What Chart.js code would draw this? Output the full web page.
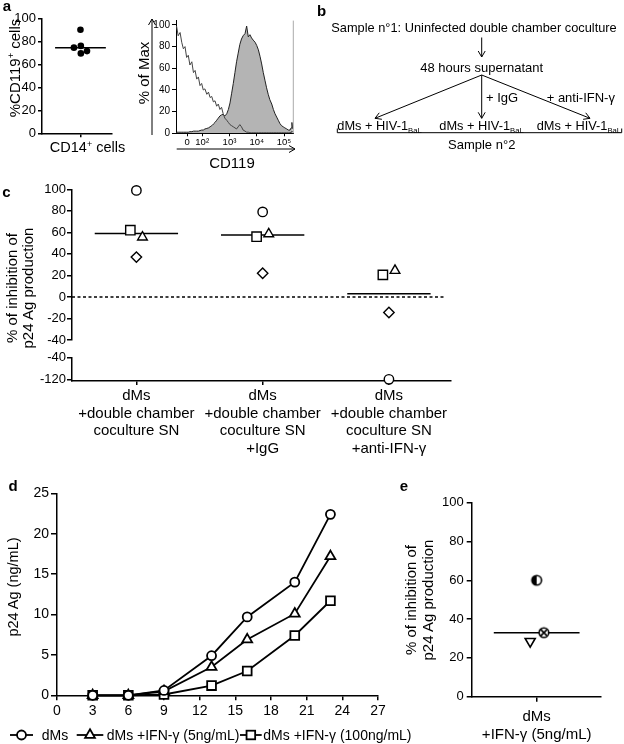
<!DOCTYPE html>
<html><head><meta charset="utf-8">
<script src="https://cdn.jsdelivr.net/npm/chart.js@4.4.1/dist/chart.umd.min.js"></script>
<style>
html,body{margin:0;padding:0;background:#fff;}
#page{position:relative;width:624px;height:744px;overflow:hidden;font-family:'Liberation Sans',Arial,Helvetica,sans-serif;color:#000;}
canvas{position:absolute;}
.t{position:absolute;white-space:nowrap;line-height:1;}
#ov{position:absolute;left:0;top:0;}
</style></head><body><div id="page">
<canvas id="ca1"></canvas><canvas id="ca2"></canvas>
<canvas id="cc1"></canvas><canvas id="cc2"></canvas>
<canvas id="cd"></canvas><canvas id="ce"></canvas>
<svg id="ov" width="624" height="744" xmlns="http://www.w3.org/2000/svg"></svg>
</div>
<script>
// ---------------- DATA ----------------
// panel a (left): %CD119+ among CD14+ cells
const aCd119 = [90, 74.5, 76, 69.5, 71.5];
const aCd119Jitter = [0, -0.17, 0.01, 0.01, 0.17];
const aCd119Median = 74.5;
const aTicks = [0, 20, 40, 60, 80, 100];

// panel a (right): CD119 histogram (x in display decades)
const histX = [1.06,1.12,1.19,1.25,1.31,1.37,1.43,1.49,1.55,1.62,
  1.68,1.74,1.80,1.86,1.92,1.98,2.04,2.10,2.17,2.23,
  2.29,2.35,2.41,2.47,2.53,2.59,2.65,2.71,2.77,2.83,
  2.90,2.96,3.02,3.08,3.14,3.20,3.26,3.32,3.38,3.44,
  3.50,3.57,3.63,3.69,3.75,3.81,3.87,3.94,4.00,4.06,
  4.12,4.18,4.24,4.30,4.36,4.42,4.48,4.55,4.61,4.67,
  4.73,4.79,4.85,4.91,4.97,5.03,5.10,5.16,5.22,5.26,
  5.29,5.32];
const histIsotype = [99,90,93,84,78,80,70,72,63,66,
  56,58,50,52,44,46,40,41,36,38,
  33,34,29,30,25,27,22,24,18,14,
  12,10,8,7,6,5,4,6,8,6,
  3,2,1,1,0.5,0.5,0.5,0.5,0.5,0.5,
  0.5,0.5,0.5,0.5,0.5,0.5,0.5,0.5,0.5,0.5,
  0.5,0.5,0.5,0.5,0.5,0.5,0.5,0.5,0.5,1,
  2,1];
const histCd119 = [1,1,1,1,1,1,1,1,1.5,1.5,
  2,2,2,2,2.5,3,3,4,4.5,5,
  6,7,8.5,10,12,14,16,17,17.5,16,
  18,22,28,37,46,56,66,74,82,87,
  90,92,99,89,91,88,86,84,81,77,
  71,64,56,49,42,36,31,27,22,18,
  15,12,9,7,6,5,4,3,3,5,
  10,4];
const histTickValues = [1.45, 2, 3, 4, 5];
const histTickLabels = ['0', '10²', '10³', '10⁴', '10⁵'];
const histYTicks = [0, 20, 40, 60, 80, 100];

// panel c
const cCategories = [
  ['dMs', '+double chamber', 'coculture SN'],
  ['dMs', '+double chamber', 'coculture SN', '+IgG'],
  ['dMs', '+double chamber', 'coculture SN', '+anti-IFN-γ']
];
const cCircle   = [99, 79, -120];
const cSquare   = [62, 56, 20.5];
const cTriangle = [55.5, 58.5, 24.5];
const cDiamond  = [37, 22, -14.5];
const cMedian   = [59, 57.5, 3];
const cUpperTicks = [100, 80, 60, 40, 20, 0, -20, -40];
const cLowerTicks = [-40, -120];

// panel d
const dDays   = [3, 6, 9, 13, 16, 20, 23];
const dMs     = [0, 0, 0.6, 4.9, 9.7, 14.0, 22.4];
const dIfn5   = [0, 0, 0.5, 3.5, 6.9, 10.1, 17.2];
const dIfn100 = [0, 0, 0.1, 1.2, 3.0, 7.4, 11.7];
const dSeriesNames = ['dMs', 'dMs +IFN-γ (5ng/mL)', 'dMs +IFN-γ (100ng/mL)'];

// panel e
const eCategory = ['dMs', '+IFN-γ (5ng/mL)'];
const eValues = [60, 28.5, 33];
const eJitter = [0, -0.1, 0.11];
const eMedian = 33;

// ---------------- STYLE / HELPERS ----------------
const FONT = "'Liberation Sans', Arial, Helvetica, sans-serif";
Chart.defaults.font.family = FONT;
Chart.defaults.color = '#000';
Chart.defaults.animation = false;
Chart.defaults.events = [];
Chart.defaults.responsive = false;
Chart.defaults.plugins.legend.display = false;
Chart.defaults.plugins.tooltip.enabled = false;

const page = document.getElementById('page');
function place(id, L, T, W, H) {
  const c = document.getElementById(id);
  c.width = W; c.height = H;
  c.style.left = L + 'px'; c.style.top = T + 'px';
  c.style.width = W + 'px'; c.style.height = H + 'px';
  return c;
}
function axis(o) {
  const lw = o.lw ?? 1.5;
  const a = {
    type: 'linear',
    display: o.display !== false,
    position: o.position,
    min: o.min, max: o.max,
    afterFit: o.position === 'left' ? (s => { s.width = o.size; }) : (s => { s.height = o.size; }),
    ticks: { color: '#000', font: { size: o.font || 12, lineHeight: o.lh || 1.2 }, padding: o.pad ?? 3,
             autoSkip: false, maxRotation: 0, minRotation: 0 },
    grid: { display: true, drawOnChartArea: false, drawTicks: true, tickLength: o.tl ?? 5, color: '#000', lineWidth: lw },
    border: { display: true, color: '#000', width: lw }
  };
  if (o.step) a.ticks.stepSize = o.step;
  if (o.ticks) a.afterBuildTicks = s => { s.ticks = o.ticks.map(v => ({ value: v })); };
  if (o.labels) a.ticks.callback = (v, i) => o.labels[i];
  if (o.hideLabels) a.ticks.display = false;
  return a;
}
function txt(html, x, y, o = {}) {
  const d = document.createElement('div');
  d.className = 't';
  d.innerHTML = html;
  d.style.fontSize = (o.size || 13) + 'px';
  if (o.bold) d.style.fontWeight = 'bold';
  d.style.left = x + 'px'; d.style.top = y + 'px';
  const ax = o.align === 'left' ? '0' : '-50%';
  d.style.transform = 'translate(' + ax + ',-50%)' + (o.rot ? ' rotate(-90deg)' : '');
  page.appendChild(d);
}
const ov = document.getElementById('ov');
function svgEl(tag, attrs) {
  const e = document.createElementNS('http://www.w3.org/2000/svg', tag);
  for (const k in attrs) e.setAttribute(k, attrs[k]);
  ov.appendChild(e); return e;
}
function arrow(x1, y1, x2, y2, h = 6, w = 3.5, sw = 1) {
  const a = Math.atan2(y2 - y1, x2 - x1);
  const bx = x2 - h * Math.cos(a), by = y2 - h * Math.sin(a);
  const px = -Math.sin(a) * w, py = Math.cos(a) * w;
  svgEl('path', { d: `M${x1},${y1}L${x2},${y2}M${bx + px},${by + py}L${x2},${y2}L${bx - px},${by - py}`,
    stroke: '#000', 'stroke-width': sw, fill: 'none' });
}
const openPt = { pointBackgroundColor: '#fff', pointBorderColor: '#000', pointBorderWidth: 1.4, clip: false };
function medianLine(xc, half, y, lw = 1.5) {
  return { data: [{ x: xc - half, y }, { x: xc + half, y }], showLine: true, pointRadius: 0,
           borderColor: '#000', borderWidth: lw, clip: false };
}
function pointImg(kind, r) {
  const s = Math.ceil(2 * r + 4), c = document.createElement('canvas');
  c.width = s; c.height = s;
  const g = c.getContext('2d'), m = s / 2;
  g.lineWidth = 1.6; g.strokeStyle = '#000';
  g.fillStyle = '#fff'; g.beginPath(); g.arc(m, m, r, 0, 2 * Math.PI); g.fill();
  if (kind === 'half') {
    g.fillStyle = '#000'; g.beginPath(); g.arc(m, m, r, Math.PI / 2, 3 * Math.PI / 2); g.closePath(); g.fill();
  } else {
    const k = r * 0.6;
    g.beginPath(); g.moveTo(m - k, m - k); g.lineTo(m + k, m + k); g.moveTo(m + k, m - k); g.lineTo(m - k, m + k); g.stroke();
  }
  g.beginPath(); g.arc(m, m, r, 0, 2 * Math.PI); g.stroke();
  return c;
}

// ---------------- PANEL a (dot plot) ----------------
place('ca1', 0, 0, 135, 160);
new Chart('ca1', {
  type: 'scatter',
  data: { datasets: [
    { data: aCd119.map((v, i) => ({ x: 1 + aCd119Jitter[i], y: v })), pointRadius: 3.3,
      pointBackgroundColor: '#000', pointBorderColor: '#000', pointBorderWidth: 0, clip: false },
    medianLine(1, 0.66, aCd119Median)
  ] },
  options: {
    layout: { padding: { top: 18.3, right: 23, left: 0, bottom: 0 } },
    scales: {
      x: axis({ position: 'bottom', min: 0, max: 1.82, size: 26.7, ticks: [1], hideLabels: true, tl: 4 }),
      y: axis({ position: 'left', min: 0, max: 100, size: 42, ticks: aTicks, font: 13, tl: 4, pad: 2 })
    }
  }
});

// ---------------- PANEL a (histogram) ----------------
const rightEdge = { id: 'rightEdge', afterDraw(ch) {
  const a = ch.chartArea, g = ch.ctx; g.save(); g.strokeStyle = '#aaa'; g.lineWidth = 1;
  g.beginPath(); g.moveTo(a.right, a.top); g.lineTo(a.right, a.bottom); g.stroke(); g.restore(); } };
place('ca2', 140, 0, 165, 160);
new Chart('ca2', {
  type: 'scatter',
  data: { datasets: [
    { data: histX.map((x, i) => ({ x, y: histIsotype[i] })), showLine: true, pointRadius: 0,
      borderColor: '#444', borderWidth: 1, fill: false },
    { data: histX.map((x, i) => ({ x, y: histCd119[i] })), showLine: true, pointRadius: 0,
      borderColor: '#222', borderWidth: 1, fill: 'origin', backgroundColor: '#b4b4b4' }
  ] },
  options: {
    layout: { padding: { top: 20.6, right: 11.7, left: 0, bottom: 0 } },
    scales: {
      x: axis({ position: 'bottom', min: 1.04, max: 5.34, size: 26.7, ticks: histTickValues, labels: histTickLabels, font: 9.5, tl: 3, pad: 0, lw: 1 }),
      y: axis({ position: 'left', min: 0, max: 104, size: 36, ticks: histYTicks, font: 10, tl: 4, pad: 2, lw: 1 })
    }
  },
  plugins: [rightEdge]
});

// ---------------- PANEL c ----------------
const cShapes = [
  { vals: cCircle, style: 'circle', r: 4.7, off: 0 },
  { vals: cSquare, style: 'rect', r: 6.6, off: -0.048 },
  { vals: cTriangle, style: 'triangle', r: 5.6, off: 0.048 },
  { vals: cDiamond, style: 'rectRot', r: 5.2, off: 0 }
];
function cSets(keep) {
  return cShapes.map(s => Object.assign({
    data: s.vals.map((v, i) => ({ x: i + 1 + s.off, y: v })).filter(p => keep(p.y)),
    pointStyle: s.style, pointRadius: s.r
  }, openPt));
}
place('cc1', 0, 180, 470, 170);
new Chart('cc1', {
  type: 'scatter',
  data: { datasets: [
    ...cSets(v => v >= -40),
    ...cMedian.map((m, i) => medianLine(i + 1, 0.33, m)),
    { data: [{ x: 0.49, y: 0 }, { x: 3.44, y: 0 }], showLine: true, pointRadius: 0, borderColor: '#000',
      borderWidth: 1.5, borderDash: [3, 2.5], clip: false }
  ] },
  options: {
    layout: { padding: { top: 9.3, right: 19.2, left: 0, bottom: 10 } },
    scales: {
      x: axis({ display: false, position: 'bottom', min: 0.49, max: 3.49, size: 0 }),
      y: axis({ position: 'left', min: -40, max: 100, size: 72, ticks: cUpperTicks, font: 13, tl: 5, pad: 1 })
    }
  }
});
place('cc2', 0, 345, 470, 120);
new Chart('cc2', {
  type: 'scatter',
  data: { datasets: cSets(v => v < -40) },
  options: {
    layout: { padding: { top: 12.3, right: 19.2, left: 0, bottom: 0 } },
    scales: {
      x: axis({ position: 'bottom', min: 0.49, max: 3.49, size: 84, ticks: [1, 2, 3], labels: cCategories, font: 15, lh: 1.18, tl: 4, pad: 2 }),
      y: axis({ position: 'left', min: -126, max: -40, size: 72, ticks: cLowerTicks, font: 13, tl: 5, pad: 1 })
    }
  }
});

// ---------------- PANEL d ----------------
const dSeries = [
  { vals: dMs, style: 'circle', r: 4.5 },
  { vals: dIfn5, style: 'triangle', r: 5.7 },
  { vals: dIfn100, style: 'rect', r: 6.2 }
];
place('cd', 0, 480, 400, 240);
new Chart('cd', {
  type: 'scatter',
  data: { datasets: dSeries.map((s, k) => ({
    label: dSeriesNames[k],
    data: dDays.map((x, i) => ({ x, y: s.vals[i] })), showLine: true, borderColor: '#000', borderWidth: 1.8,
    pointStyle: s.style, pointRadius: s.r, pointBackgroundColor: '#fff', pointBorderColor: '#000',
    pointBorderWidth: 1.8, clip: false })) },
  options: {
    layout: { padding: { top: 13.3, right: 22, left: 0, bottom: 0 } },
    scales: {
      x: axis({ position: 'bottom', min: 0, max: 27, step: 3, size: 24.7, font: 14, tl: 5, pad: 2 }),
      y: axis({ position: 'left', min: 0, max: 25, step: 5, size: 57, font: 14, tl: 6, pad: 2 })
    }
  }
});

// ---------------- PANEL e ----------------
place('ce', 440, 480, 184, 264);
new Chart('ce', {
  type: 'scatter',
  data: { datasets: [
    Object.assign({ data: eValues.map((v, i) => ({ x: 1 + eJitter[i], y: v })),
      pointStyle: [pointImg('half', 4.8), 'triangle', pointImg('cross', 4.8)],
      pointRotation: [0, 180, 0], pointRadius: [5, 5.8, 5] }, openPt, { pointBorderWidth: 1.6 }),
    medianLine(1, 0.66, eMedian)
  ] },
  options: {
    layout: { padding: { top: 22.7, right: 23, left: 0, bottom: 0 } },
    scales: {
      x: axis({ position: 'bottom', min: 0, max: 1.99, size: 47.3, ticks: [1], labels: [eCategory], font: 15, lh: 1.22, tl: 5, pad: 5.8 }),
      y: axis({ position: 'left', min: 0, max: 100, step: 20, size: 31.7, font: 13, tl: 5, pad: 3 })
    }
  }
});

// ---------------- TEXT ----------------
const SUP = s => '<span style="font-size:0.62em;vertical-align:0.55em">' + s + '</span>';
const SUB = s => '<span style="font-size:0.6em;vertical-align:-0.35em">' + s + '</span>';
txt('a', 7, 5, { size: 15, bold: true });
txt('%CD119' + SUP('+') + ' cells', 13.5, 68, { size: 15, rot: true });
txt('CD14' + SUP('+') + ' cells', 87.5, 146.5, { size: 14.5 });
txt('% of Max', 143.3, 72.5, { size: 15, rot: true });
txt('CD119', 232, 161.7, { size: 15 });

txt('b', 321.5, 9.5, { size: 15, bold: true });
txt('Sample n°1: Uninfected double chamber coculture', 474, 28.3, { size: 12.8 });
txt('48 hours supernatant', 481.7, 66.7, { size: 13 });
txt('+ IgG', 486, 96.7, { size: 13, align: 'left' });
txt('+ anti-IFN-γ', 546.7, 96.7, { size: 13, align: 'left' });
[337.3, 439.3, 536.7].forEach(x => txt('dMs + HIV-1' + SUB('BaL'), x, 126.7, { size: 12.8, align: 'left' }));
txt('Sample n°2', 481.7, 144, { size: 13 });

txt('c', 6.3, 191, { size: 15, bold: true });
txt('% of inhibition of', 10.5, 288, { size: 15, rot: true });
txt('p24 Ag production', 26.5, 288, { size: 15, rot: true });

txt('d', 13, 485, { size: 15, bold: true });
txt('p24 Ag (ng/mL)', 12.5, 587, { size: 14.5, rot: true });
txt('e', 404, 485, { size: 15, bold: true });
txt('% of inhibition of', 410, 600, { size: 15, rot: true });
txt('p24 Ag production', 426.5, 600, { size: 15, rot: true });

// legend for d
const legY = 735;
txt(dSeriesNames[0], 41.7, legY, { size: 14, align: 'left' });
txt(dSeriesNames[1], 106.7, legY, { size: 14, align: 'left' });
txt(dSeriesNames[2], 263.3, legY, { size: 14, align: 'left' });
const legSym = [[10, 33], [76.7, 103.3], [240, 261.7]];
legSym.forEach(([x1, x2], k) => {
  svgEl('line', { x1, y1: legY, x2, y2: legY, stroke: '#000', 'stroke-width': 1.8 });
  const cx = (x1 + x2) / 2;
  const st = { stroke: '#000', 'stroke-width': 1.8, fill: '#fff' };
  if (k === 0) svgEl('circle', Object.assign({ cx, cy: legY, r: 4.5 }, st));
  if (k === 1) svgEl('path', Object.assign({ d: `M${cx},${legY - 5.7}L${cx + 4.9},${legY + 2.8}L${cx - 4.9},${legY + 2.8}Z` }, st));
  if (k === 2) svgEl('rect', Object.assign({ x: cx - 4.3, y: legY - 4.3, width: 8.6, height: 8.6 }, st));
});

// ---------------- DIAGRAM / ARROWS ----------------
arrow(152, 135, 152, 19, 6, 3.5, 1);
arrow(176.7, 149, 295, 149, 6, 3.5, 1);
arrow(481.7, 37.5, 481.7, 57);
arrow(481.7, 75, 375, 118.3);
arrow(481.7, 75, 481.7, 118.3);
arrow(481.7, 75, 590, 118.3);
svgEl('path', { d: 'M337.3,128.5L337.3,132.7L621.7,132.7L621.7,128.5', stroke: '#000', 'stroke-width': 1, fill: 'none' });
</script>
</body></html>
